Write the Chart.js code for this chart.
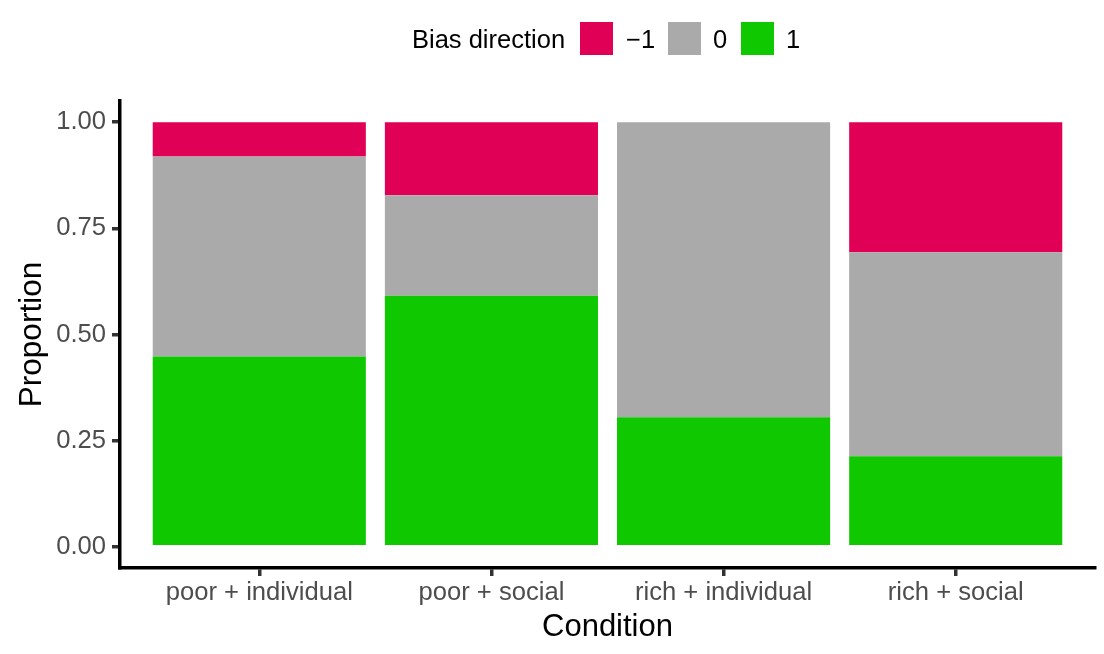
<!DOCTYPE html>
<html><head><meta charset="utf-8">
<script src="https://cdn.jsdelivr.net/npm/chart.js@4"></script>
<style>
html,body{margin:0;padding:0;background:#fff;}
#wrap{position:relative;width:1104px;height:654px;}
canvas{display:block;}
#legend{position:absolute;left:0;top:22px;height:33px;width:1104px;font-family:"Liberation Sans",Arial,sans-serif;font-size:25.5px;color:#000;line-height:33px;white-space:nowrap;}
#legend span{position:absolute;top:0;}
#legend .txt{top:1px;}
#legend .box{width:33px;height:33px;}
</style></head><body>
<div id="wrap"><canvas id="c" width="1104" height="654"></canvas><div id="legend"></div></div>
<script>
const categories = ['poor + individual', 'poor + social', 'rich + individual', 'rich + social'];
const biasLabels = ['1', '0', '\u22121'];
const propPlus1  = [0.448, 0.591, 0.305, 0.213];
const propZero   = [0.471, 0.237, 0.695, 0.481];
const propMinus1 = [0.081, 0.172, 0.000, 0.306];
const yTickValues = [0, 0.25, 0.5, 0.75, 1];
const legendTitle = 'Bias direction';

const seriesValues = [propPlus1, propZero, propMinus1];
const seriesColors = ['#0FC800', '#AAAAAA', '#E00055'];
const FONT = '"Liberation Sans", Arial, sans-serif';

const datasets = biasLabels.map((lab, k) => ({
  label: lab,
  data: categories.map((c, i) => ({x: i, y: seriesValues[k][i]})),
  backgroundColor: seriesColors[k],
  borderWidth: 0,
  barPercentage: 0.918,
  categoryPercentage: 1.0
}));

const chart = new Chart(document.getElementById('c'), {
  type: 'bar',
  data: {datasets},
  options: {
    responsive: false,
    animation: false,
    layout: {padding: {top: 101, right: 9, left: 0, bottom: 0}},
    plugins: {legend: {display: false}, tooltip: {enabled: false}},
    scales: {
      x: {
        type: 'linear', min: -0.6, max: 3.6, stacked: true, offset: false,
        afterBuildTicks: s => { s.ticks = categories.map((c, i) => ({value: i})); },
        afterFit: s => { s.height = 86; },
        grid: {offset: false, drawOnChartArea: false, drawTicks: true, tickLength: 8, lineWidth: 3.5, color: '#333333'},
        border: {display: true, color: '#000000', width: 3.5},
        ticks: {callback: v => categories[v], padding: 2, color: '#4D4D4D', font: {family: FONT, size: 25.6}, maxRotation: 0, autoSkip: false},
        title: {display: true, text: 'Condition', color: '#000000', font: {family: FONT, size: 31}, padding: {top: 0, bottom: 7.5}}
      },
      y: {
        type: 'linear', min: -0.05, max: 1.05, stacked: true,
        afterBuildTicks: s => { s.ticks = yTickValues.map(v => ({value: v})); },
        afterFit: s => { s.width = 120; },
        grid: {offset: false, drawOnChartArea: false, drawTicks: true, tickLength: 8, lineWidth: 3.5, color: '#333333'},
        border: {display: true, color: '#000000', width: 3.5},
        ticks: {callback: v => Number(v).toFixed(2), padding: 6, color: '#4D4D4D', font: {family: FONT, size: 25.6}},
        title: {display: true, text: 'Proportion', color: '#000000', font: {family: FONT, size: 31.5}, padding: {top: 13, bottom: 0}}
      }
    }
  }
});

// HTML legend built from the chart's datasets (top of stack first)
const leg = document.getElementById('legend');
function addSpan(cls, left, text, bg) {
  const s = document.createElement('span');
  s.className = cls; s.style.left = left + 'px';
  if (text !== undefined) s.textContent = text;
  if (bg) s.style.background = bg;
  leg.appendChild(s);
}
addSpan('txt', 412, legendTitle);
const boxLefts = [580, 668, 741];
const labLefts = [626, 713, 786];
chart.data.datasets.slice().reverse().forEach((ds, j) => {
  addSpan('box', boxLefts[j], undefined, ds.backgroundColor);
  addSpan('txt', labLefts[j], ds.label);
});
</script>
</body></html>
